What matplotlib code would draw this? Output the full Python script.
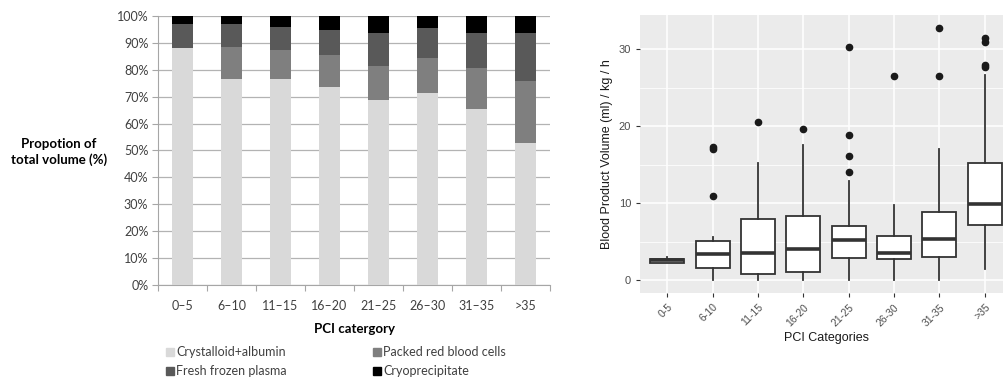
import matplotlib
matplotlib.use('Agg')
import matplotlib.pyplot as plt
from matplotlib.patches import Patch
import numpy as np

# --- data: left chart (stacked proportions, %) ---
pci_left = ['0–5', '6–10', '11–15', '16–20', '21–25', '26–30', '31–35', '>35']
crystalloid = [88, 76.7, 76.7, 73.6, 68.7, 71.2, 65.4, 52.9]
prbc = [0, 11.6, 10.6, 11.9, 12.6, 13.2, 15.2, 22.9]
ffp = [9, 8.8, 8.6, 9.2, 12.5, 11.3, 13.2, 17.9]
cryo = [3, 2.9, 4.1, 5.3, 6.2, 4.3, 6.2, 6.3]
series_names = ['Crystalloid+albumin', 'Packed red blood cells', 'Fresh frozen plasma', 'Cryoprecipitate']

# --- data: right chart (box stats, ml/kg/h) ---
pci_right = ['0-5', '6-10', '11-15', '16-20', '21-25', '26-30', '31-35', '>35']
q1 = [2.3, 1.56, 0.8, 1.08, 2.9, 2.77, 3.07, 7.18]
med = [2.6, 3.4, 3.5, 4.1, 5.2, 3.6, 5.36, 9.95]
q3 = [2.8, 5.15, 7.96, 8.35, 7.1, 5.8, 8.83, 15.2]
wlo = [2.2, 0, 0, 0, 0, 0, 0, 1.5]
whi = [3.0, 5.6, 15.2, 17.6, 12.9, 9.8, 17.0, 26.7]
outliers = [[], [10.9, 17.0, 17.3], [20.6], [19.7], [14.1, 16.2, 18.9, 30.3],
            [26.5], [26.5, 32.8], [27.7, 28.0, 31.0, 31.5]]

fig = plt.figure(figsize=(10.04, 3.81), dpi=100)

# ---------------- left chart ----------------
lfont = 'Lato'
ax = fig.add_axes([0.1574, 0.252, 0.3904, 0.706])
x = np.arange(len(pci_left))
colors = ['#d9d9d9', '#7f7f7f', '#595959', '#000000']
bottom = np.zeros(len(x))
handles = []
for vals, c, name in zip([crystalloid, prbc, ffp, cryo], colors, series_names):
    ax.bar(x, vals, 0.41, bottom=bottom, color=c, zorder=3)
    bottom += np.array(vals)
    handles.append(Patch(color=c, label=name))

ax.set_xlim(-0.5, 7.5)
ax.set_ylim(0, 100)
ax.set_yticks(np.arange(0, 101, 10))
ax.set_yticklabels([f'{v}%' for v in range(0, 101, 10)], fontsize=9, family=lfont, color='#404040')
ax.set_xticks(np.arange(-0.5, 8, 1))
ax.set_xticklabels([])
ax.set_xticks(x, minor=True)
ax.set_xticklabels(pci_left, minor=True, fontsize=9, family=lfont, color='#404040')
ax.tick_params(axis='x', which='major', length=4, color='#a6a6a6', direction='out')
ax.tick_params(axis='x', which='minor', length=0, pad=11)
ax.tick_params(axis='y', length=4, color='#a6a6a6', pad=3)
ax.grid(axis='y', color='#b3b3b3', linewidth=0.9, zorder=0)
for s in ['top', 'right']:
    ax.spines[s].set_visible(False)
for s in ['left', 'bottom']:
    ax.spines[s].set_color('#a6a6a6')

ax.set_xlabel('PCI catergory', fontsize=9.5, family=lfont, fontweight='bold', labelpad=8)
fig.text(59 / 1004, 1 - 152 / 381, 'Propotion of\ntotal volume (%)', ha='center', va='center',
         fontsize=9.5, family=lfont, fontweight='bold', linespacing=1.4)

order = [0, 2, 1, 3]
fig.legend([handles[i] for i in order], [series_names[i] for i in order], ncol=2,
           loc='upper left', bbox_to_anchor=(160 / 1004, 1 - 340 / 381), frameon=False,
           prop={'family': lfont, 'size': 9}, handlelength=0.6, handleheight=0.6,
           handletextpad=0.2, columnspacing=6.9, labelspacing=0.55, borderpad=0,
           labelcolor='#404040')

# ---------------- right chart ----------------
rfont = 'Liberation Sans'
ax2 = fig.add_axes([0.6375, 0.231, 0.3705, 0.7297])
ax2.set_facecolor('#ebebeb')
stats = []
for i in range(len(pci_right)):
    stats.append(dict(med=med[i], q1=q1[i], q3=q3[i], whislo=wlo[i], whishi=whi[i],
                      fliers=outliers[i], label=pci_right[i]))
pos = np.arange(1, len(pci_right) + 1)
ax2.bxp(stats, positions=pos, widths=0.75, showcaps=False, patch_artist=True,
        boxprops=dict(facecolor='white', edgecolor='#333333', linewidth=1.3),
        whiskerprops=dict(color='#333333', linewidth=1.3),
        medianprops=dict(color='#333333', linewidth=2.6),
        flierprops=dict(marker='o', markerfacecolor='#1a1a1a', markeredgecolor='#1a1a1a',
                        markersize=4.5),
        zorder=3)
ax2.set_xlim(0.4, 8.6)
ax2.set_ylim(-1.65, 34.45)
ax2.set_yticks([0, 10, 20, 30])
ax2.set_yticks([5, 15, 25], minor=True)
ax2.set_xticks(pos)
ax2.set_xticklabels(pci_right, rotation=45, ha='right', rotation_mode='anchor',
                    fontsize=7.5, family=rfont, color='#4d4d4d')
ax2.set_yticklabels(['0', '10', '20', '30'], fontsize=8, family=rfont, color='#4d4d4d')
ax2.tick_params(axis='both', which='major', length=3, color='#333333', width=0.8)
ax2.tick_params(axis='y', which='minor', length=0)
ax2.grid(which='major', color='white', linewidth=1.1, zorder=0)
ax2.grid(which='minor', axis='y', color='white', linewidth=0.55, zorder=0)
ax2.set_axisbelow(True)
for s in ax2.spines.values():
    s.set_visible(False)
ax2.set_xlabel('PCI Categories', fontsize=9, family=rfont, color='#1a1a1a', labelpad=3)
ax2.set_ylabel('Blood Product Volume (ml) / kg / h', fontsize=9, family=rfont, color='#1a1a1a',
               labelpad=4)

fig.savefig('out.png', dpi=100)
